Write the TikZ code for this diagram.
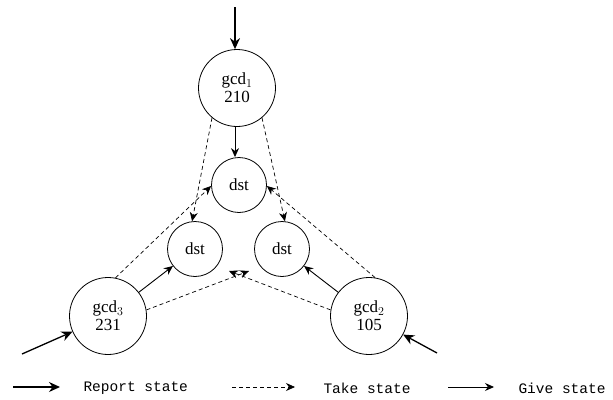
\documentclass[tikz,border=0pt]{standalone}
\usepackage{fontspec}
\setmainfont{Liberation Serif}
\setmonofont{Liberation Mono}
\usetikzlibrary{arrows.meta}
\begin{document}
\begin{tikzpicture}[x=1pt,y=-1pt,
  gcdnode/.style={circle,draw,line width=0.8pt,minimum size=77pt,inner sep=0pt,align=center,font=\fontsize{17}{18}\selectfont},
  dstnode/.style={circle,draw,line width=0.8pt,minimum size=55pt,inner sep=0pt,font=\fontsize{17}{18}\selectfont},
  report/.style={line width=1.3pt,-{Stealth[length=11pt,width=10pt]}},
  give/.style={line width=0.9pt,-{Stealth[length=9pt,width=8pt]}},
  take/.style={line width=0.7pt,dash pattern=on 4pt off 3pt,-{Stealth[length=9pt,width=8pt]}},
  legtext/.style={anchor=west,font=\ttfamily\fontsize{14.5}{16}\selectfont}]
\useasboundingbox (0,0) rectangle (613,399);
% nodes
\node[gcdnode] (g1) at (237,88) {gcd$_1$\\210};
\node[gcdnode] (g3) at (108,316) {gcd$_3$\\231};
\node[gcdnode] (g2) at (369,316) {gcd$_2$\\105};
\node[dstnode] (d0) at (239,185) {dst};
\node[dstnode] (d1) at (195,249) {dst};
\node[dstnode] (d2) at (282,249) {dst};
% free ends
\coordinate (in1) at (235,7);
\coordinate (in3) at (22,354);
\coordinate (in2) at (437,353);
\coordinate (t3) at (249,271);
\coordinate (t2) at (229,271);
% report state
\draw[report] (in1) -- (in1 |- g1.north);
\draw[report] (in3) -- (g3);
\draw[report] (in2) -- (g2);
% give state
\draw[give] (g1.south -| in1) -- (in1 |- d0.north);
\draw[give] (g3) -- (d1);
\draw[give] (g2) -- (d2);
% take state
\draw[take] (g1.230) -- (d1.96);
\draw[take] (g1.310) -- (d2.84);
\draw[take] (g3.79) -- (d0.182);
\draw[take] (g2.81) -- (d0.358);
\draw[take] (g3.9) -- (t3);
\draw[take] (g2.171) -- (t2);
% legend
\coordinate (l1a) at (13,387); \coordinate (l1b) at (60,387);
\coordinate (l2a) at (232,387); \coordinate (l2b) at (295,387);
\coordinate (l3a) at (448,387); \coordinate (l3b) at (494,387);
\draw[report] (l1a) -- (l1b);
\draw[take] (l2a) -- (l2b);
\draw[give] (l3a) -- (l3b);
\node[legtext] (lt1) at (80,388) {Report state};
\node[legtext] (lt2) at (320,388) {Take state};
\node[legtext] (lt3) at (515,388) {Give state};
\end{tikzpicture}
\end{document}
